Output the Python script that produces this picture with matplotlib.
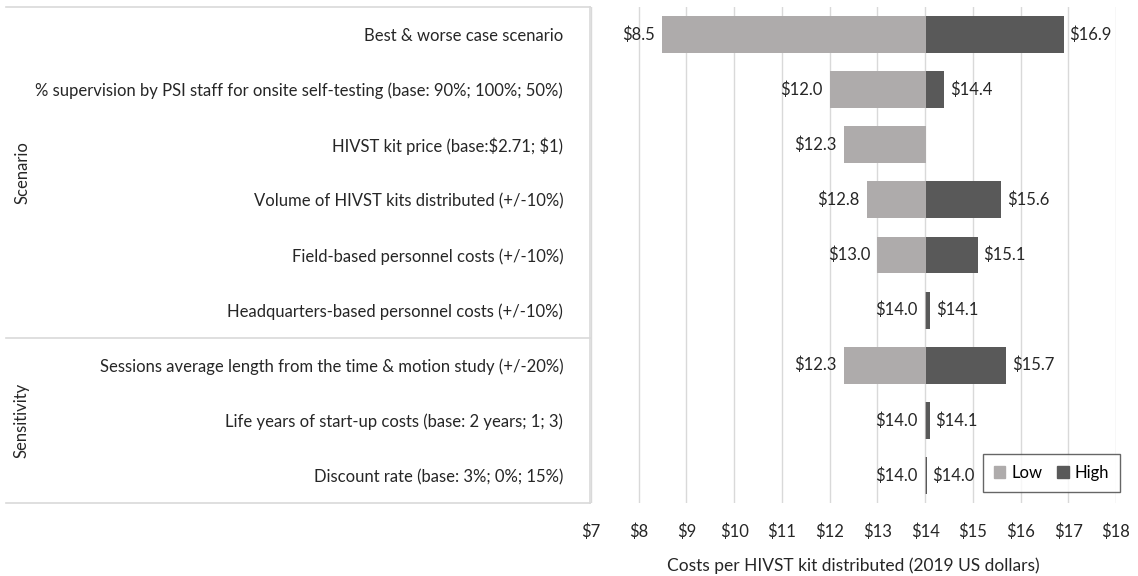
import matplotlib
matplotlib.use("Agg")
import matplotlib.pyplot as plt
from matplotlib.patches import Patch
from matplotlib.lines import Line2D

plt.rcParams['font.family'] = ['Lato', 'DejaVu Sans']

categories = [
    "Best & worse case scenario",
    "% supervision by PSI staff for onsite self-testing (base: 90%; 100%; 50%)",
    "HIVST kit price (base:\\$2.71; \\$1)",
    "Volume of HIVST kits distributed (+/-10%)",
    "Field-based personnel costs (+/-10%)",
    "Headquarters-based personnel costs (+/-10%)",
    "Sessions average length from the time & motion study (+/-20%)",
    "Life years of start-up costs (base: 2 years; 1; 3)",
    "Discount rate (base: 3%; 0%; 15%)",
]
base_value = 14.02
low_values = [8.48, 12.0, 12.3, 12.78, 13.0, 13.99, 12.3, 13.99, 13.99]
high_values = [16.9, 14.4, None, 15.6, 15.1, 14.11, 15.7, 14.1, 14.04]
groups = ["Scenario", "Sensitivity"]
group_sizes = [6, 3]
xticks = list(range(7, 19))

LOW_C = "#AEABAB"
HIGH_C = "#595959"
GRID_C = "#D9D9D9"
TXT = "#262626"
FS = 12

W, H = 1138, 576
fig = plt.figure(figsize=(W / 100, H / 100), dpi=100)
left, right, top, bottom = 591, 1116, 7, 503
ax = fig.add_axes([left / W, 1 - bottom / H, (right - left) / W, (bottom - top) / H])

n = len(categories)
ys = list(range(n))
bh = 0.67
for y, lo, hi in zip(ys, low_values, high_values):
    ax.barh(y, lo - base_value, left=base_value, height=bh, color=LOW_C, zorder=3)
    ax.annotate(f"\\${lo:.1f}", (lo, y), xytext=(-5, 0), textcoords="offset points",
                ha="right", va="center", fontsize=FS, color=TXT)
    if hi is not None:
        ax.barh(y, hi - base_value, left=base_value, height=bh, color=HIGH_C, zorder=3)
        ax.annotate(f"\\${hi:.1f}", (hi, y), xytext=(4, 0), textcoords="offset points",
                    ha="left", va="center", fontsize=FS, color=TXT)

ax.set_xlim(7, 18)
ax.set_ylim(n - 0.5, -0.5)
ax.set_xticks(xticks)
ax.set_xticklabels([f"\\${t}" for t in xticks], fontsize=FS, color=TXT)
ax.xaxis.grid(True, color=GRID_C, linewidth=1, zorder=0)
ax.set_yticks(ys)
ax.set_yticklabels(categories, fontsize=FS, color=TXT)
ax.tick_params(axis="y", length=0, pad=20)
ax.tick_params(axis="x", length=0, pad=15)
for s in ax.spines.values():
    s.set_visible(False)
ax.set_xlabel("Costs per HIVST kit distributed (2019 US dollars)", fontsize=FS + 0.5,
              color=TXT, labelpad=12)

def fy(py):
    return 1 - py / H

def fx(px):
    return px / W

row_h = (bottom - top) / n
sep_y = top + group_sizes[0] * row_h
lines = [
    ((6, 590), (top, top)),
    ((590, 590), (top, bottom)),
    ((6, 590), (bottom, bottom)),
    ((6, 590), (sep_y, sep_y)),
]
for xs, yy in lines:
    fig.add_artist(Line2D([fx(xs[0]), fx(xs[1])], [fy(yy[0]), fy(yy[1])],
                          color=GRID_C, linewidth=1.2))

start = 0
for g, sz in zip(groups, group_sizes):
    cy = top + (start + sz / 2) * row_h
    fig.text(fx(22), fy(cy), g, rotation=90, ha="center", va="center",
             fontsize=FS, color=TXT)
    start += sz

handles = [Patch(color=LOW_C, label="Low"), Patch(color=HIGH_C, label="High")]
leg = ax.legend(handles=handles, ncol=2, loc="lower right",
                bbox_to_anchor=((1120 - left) / (right - left), (bottom - 492) / (bottom - top)),
                borderaxespad=0, fontsize=FS, frameon=True,
                fancybox=False, edgecolor="#404040", handlelength=0.7,
                handleheight=0.7, handletextpad=0.35, columnspacing=0.9,
                borderpad=0.65)
leg.get_frame().set_linewidth(1.0)

fig.savefig("out.png", dpi=100, facecolor="white")
